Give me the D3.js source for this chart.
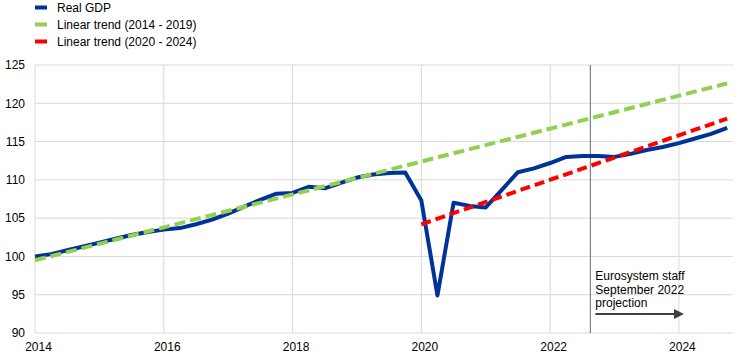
<!DOCTYPE html>
<html>
<head>
<meta charset="utf-8">
<script src="https://cdn.jsdelivr.net/npm/d3@7"></script>
<style>
  body { margin: 0; background: #fff; }
  text { font-family: "Liberation Sans", Arial, sans-serif; font-size: 12px; fill: #000; }
</style>
</head>
<body>
<svg></svg>
<script>
// quarterly real GDP index, 2014 Q1 = 100
const startYear = 2014;
const gdp = [
  100.0, 100.3, 100.8, 101.3, 101.8, 102.3, 102.8, 103.2,
  103.5, 103.7, 104.2, 104.8, 105.6, 106.5, 107.4, 108.2,
  108.3, 109.1, 108.9, 109.6, 110.3, 110.7, 110.9, 110.95,
  107.3, 94.9, 107.0, 106.6, 106.4, 108.7, 111.0, 111.5,
  112.2, 113.0, 113.1, 113.1, 113.0, 113.4, 113.9, 114.3,
  114.8, 115.4, 116.0, 116.8
];
// linear trends: [start quarter index, value], [end quarter index, value]
const trend1419 = [[0, 99.5], [43, 122.6]];
const trend2024 = [[24, 104.2], [43, 118.0]];
const xTicks = [2014, 2016, 2018, 2020, 2022, 2024];
const yTicks = [90, 95, 100, 105, 110, 115, 120, 125];
const projectionStart = 2022.625;
const legendItems = [
  { label: "Real GDP", color: "#003299" },
  { label: "Linear trend (2014 - 2019)", color: "#92d050" },
  { label: "Linear trend (2020 - 2024)", color: "#ff0000" }
];
const noteLines = ["Eurosystem staff", "September 2022", "projection"];

const width = 744, height = 362;
const svg = d3.select("svg").attr("width", width).attr("height", height);

const x = d3.scaleLinear().domain([2014, 2024.84]).range([35, 733]);
const y = d3.scaleLinear().domain([90, 125]).range([333, 65]);
const qTime = i => startYear + i / 4;

// gridlines
svg.append("g").selectAll("line").data(yTicks).enter().append("line")
  .attr("x1", x(2014)).attr("x2", x.range()[1])
  .attr("y1", d => y(d)).attr("y2", d => y(d))
  .attr("stroke", "#d9d9d9").attr("stroke-width", 1);
svg.append("g").selectAll("line").data(xTicks).enter().append("line")
  .attr("x1", d => x(d)).attr("x2", d => x(d))
  .attr("y1", y(125)).attr("y2", y(90))
  .attr("stroke", "#d9d9d9").attr("stroke-width", 1);

// axis labels
const yAxis = svg.append("g").attr("transform", `translate(${x(2014) - 10},0)`)
  .call(d3.axisLeft(y).tickValues(yTicks).tickSize(0).tickPadding(0));
yAxis.select(".domain").remove();
yAxis.selectAll("text").style("font-size", "12px").attr("fill", "#000");

const xAxis = svg.append("g").attr("transform", `translate(3,${y(90) + 9})`)
  .call(d3.axisBottom(x).tickValues(xTicks).tickFormat(d3.format("d")).tickSize(0).tickPadding(0));
xAxis.select(".domain").remove();
xAxis.selectAll("text").style("font-size", "12px").attr("fill", "#000");

// projection marker
svg.append("line")
  .attr("x1", x(projectionStart)).attr("x2", x(projectionStart))
  .attr("y1", y(125)).attr("y2", y(90))
  .attr("stroke", "#7f7f7f").attr("stroke-width", 1.2);

const line = d3.line().x(d => x(qTime(d[0]))).y(d => y(d[1]));

svg.append("path")
  .datum(gdp.map((v, i) => [i, v]))
  .attr("d", line)
  .attr("fill", "none")
  .attr("stroke", legendItems[0].color)
  .attr("stroke-width", 4)
  .attr("stroke-linejoin", "round");

svg.append("path")
  .datum(trend1419)
  .attr("d", line)
  .attr("fill", "none")
  .attr("stroke", legendItems[1].color)
  .attr("stroke-width", 4)
  .attr("stroke-dasharray", "11,5");

svg.append("path")
  .datum(trend2024)
  .attr("d", line)
  .attr("fill", "none")
  .attr("stroke", legendItems[2].color)
  .attr("stroke-width", 4)
  .attr("stroke-dasharray", "10,5");

// annotation
const note = svg.append("text").attr("x", x(projectionStart) + 5).attr("y", 280);
note.selectAll("tspan").data(noteLines).enter().append("tspan")
  .attr("x", x(projectionStart) + 5)
  .attr("dy", (d, i) => i === 0 ? 0 : 13.5)
  .text(d => d);

svg.append("defs").append("marker")
  .attr("id", "arrow")
  .attr("viewBox", "0 0 10 10")
  .attr("refX", 0).attr("refY", 5)
  .attr("markerWidth", 5).attr("markerHeight", 5)
  .attr("markerUnits", "strokeWidth")
  .attr("orient", "auto")
  .append("path").attr("d", "M0,0L10,5L0,10Z").attr("fill", "#404040");

svg.append("line")
  .attr("x1", x(projectionStart) + 5).attr("x2", 674)
  .attr("y1", 314).attr("y2", 314)
  .attr("stroke", "#404040").attr("stroke-width", 2)
  .attr("marker-end", "url(#arrow)");

// legend
const legend = svg.append("g").selectAll("g").data(legendItems).enter().append("g")
  .attr("transform", (d, i) => `translate(35,${7.5 + i * 17})`);
legend.append("rect")
  .attr("x", 0).attr("y", -2).attr("width", 12).attr("height", 4)
  .attr("fill", d => d.color);
legend.append("text")
  .attr("x", 22).attr("y", 4.5)
  .text(d => d.label);
</script>
</body>
</html>
